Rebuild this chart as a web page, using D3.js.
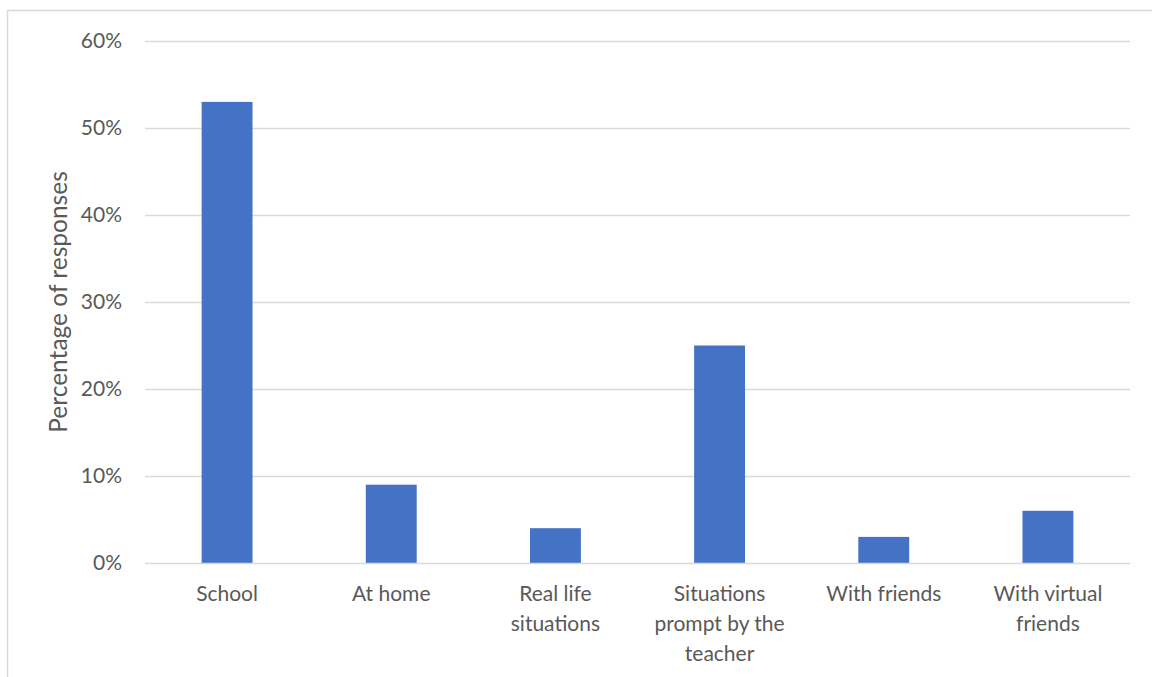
<!DOCTYPE html>
<html>
<head>
<meta charset="utf-8">
<script src="https://cdn.jsdelivr.net/npm/d3@7"></script>
<style>
  html, body { margin: 0; padding: 0; background: #fff; }
  svg { display: block; font-family: Lato, "Open Sans", sans-serif; }
</style>
</head>
<body>
<svg id="chart" width="1152" height="677"></svg>
<script>
// Where responses were reported, as share of all responses
const categories = [
  ["School"],
  ["At home"],
  ["Real life", "situations"],
  ["Situations", "prompt by the", "teacher"],
  ["With friends"],
  ["With virtual", "friends"]
];
const values = [0.53, 0.09, 0.04, 0.25, 0.03, 0.06];
const tickValues = [0, 0.1, 0.2, 0.3, 0.4, 0.5, 0.6];
const yTitle = "Percentage of responses";

const svg = d3.select("#chart");
const W = 1152, H = 677;
const plot = { left: 145, right: 1130, top: 41, bottom: 563 };

// chart frame
svg.append("rect")
  .attr("x", 7.5).attr("y", 10.5)
  .attr("width", W + 10).attr("height", H + 10)
  .attr("fill", "#fff").attr("stroke", "#d9d9d9").attr("stroke-width", 1.5);

const x = d3.scaleBand()
  .domain(d3.range(categories.length))
  .range([plot.left, plot.right])
  .paddingInner(0.69).paddingOuter(0.345);

const y = d3.scaleLinear().domain([0, 0.6]).range([plot.bottom, plot.top]);

// gridlines
svg.append("g").selectAll("line")
  .data(tickValues.filter(d => d > 0))
  .join("line")
  .attr("x1", plot.left).attr("x2", plot.right)
  .attr("y1", d => Math.round(y(d)) + 0.5).attr("y2", d => Math.round(y(d)) + 0.5)
  .attr("stroke", "#d9d9d9").attr("stroke-width", 1.3);

// y tick labels
const yAxis = d3.axisLeft(y).tickValues(tickValues).tickFormat(d3.format(".0%")).tickSize(0).tickPadding(23);
const gy = svg.append("g").attr("transform", `translate(${plot.left},0)`).call(yAxis);
gy.select(".domain").remove();
gy.selectAll("text").attr("fill", "#595959").attr("font-size", 21).attr("font-family", "Lato, 'Open Sans', sans-serif");

// bars
svg.append("g").selectAll("rect")
  .data(values)
  .join("rect")
  .attr("x", (d, i) => x(i))
  .attr("width", x.bandwidth())
  .attr("y", d => y(d))
  .attr("height", d => y(0) - y(d))
  .attr("fill", "#4472c4");

// baseline
svg.append("line")
  .attr("x1", plot.left).attr("x2", plot.right)
  .attr("y1", plot.bottom + 0.5).attr("y2", plot.bottom + 0.5)
  .attr("stroke", "#d9d9d9").attr("stroke-width", 1.5);

// category labels
const xl = svg.append("g");
categories.forEach((lines, i) => {
  const t = xl.append("text")
    .attr("x", x(i) + x.bandwidth() / 2)
    .attr("y", 601)
    .attr("text-anchor", "middle")
    .attr("fill", "#595959")
    .attr("font-size", 21);
  lines.forEach((ln, j) => {
    t.append("tspan").attr("x", x(i) + x.bandwidth() / 2).attr("dy", j === 0 ? 0 : 30).text(ln);
  });
});

// y-axis title
svg.append("text")
  .attr("transform", `translate(67,${(plot.top + plot.bottom) / 2 + 0}) rotate(-90)`)
  .attr("text-anchor", "middle")
  .attr("fill", "#595959")
  .attr("font-size", 24.5)
  .text(yTitle);
</script>
</body>
</html>
